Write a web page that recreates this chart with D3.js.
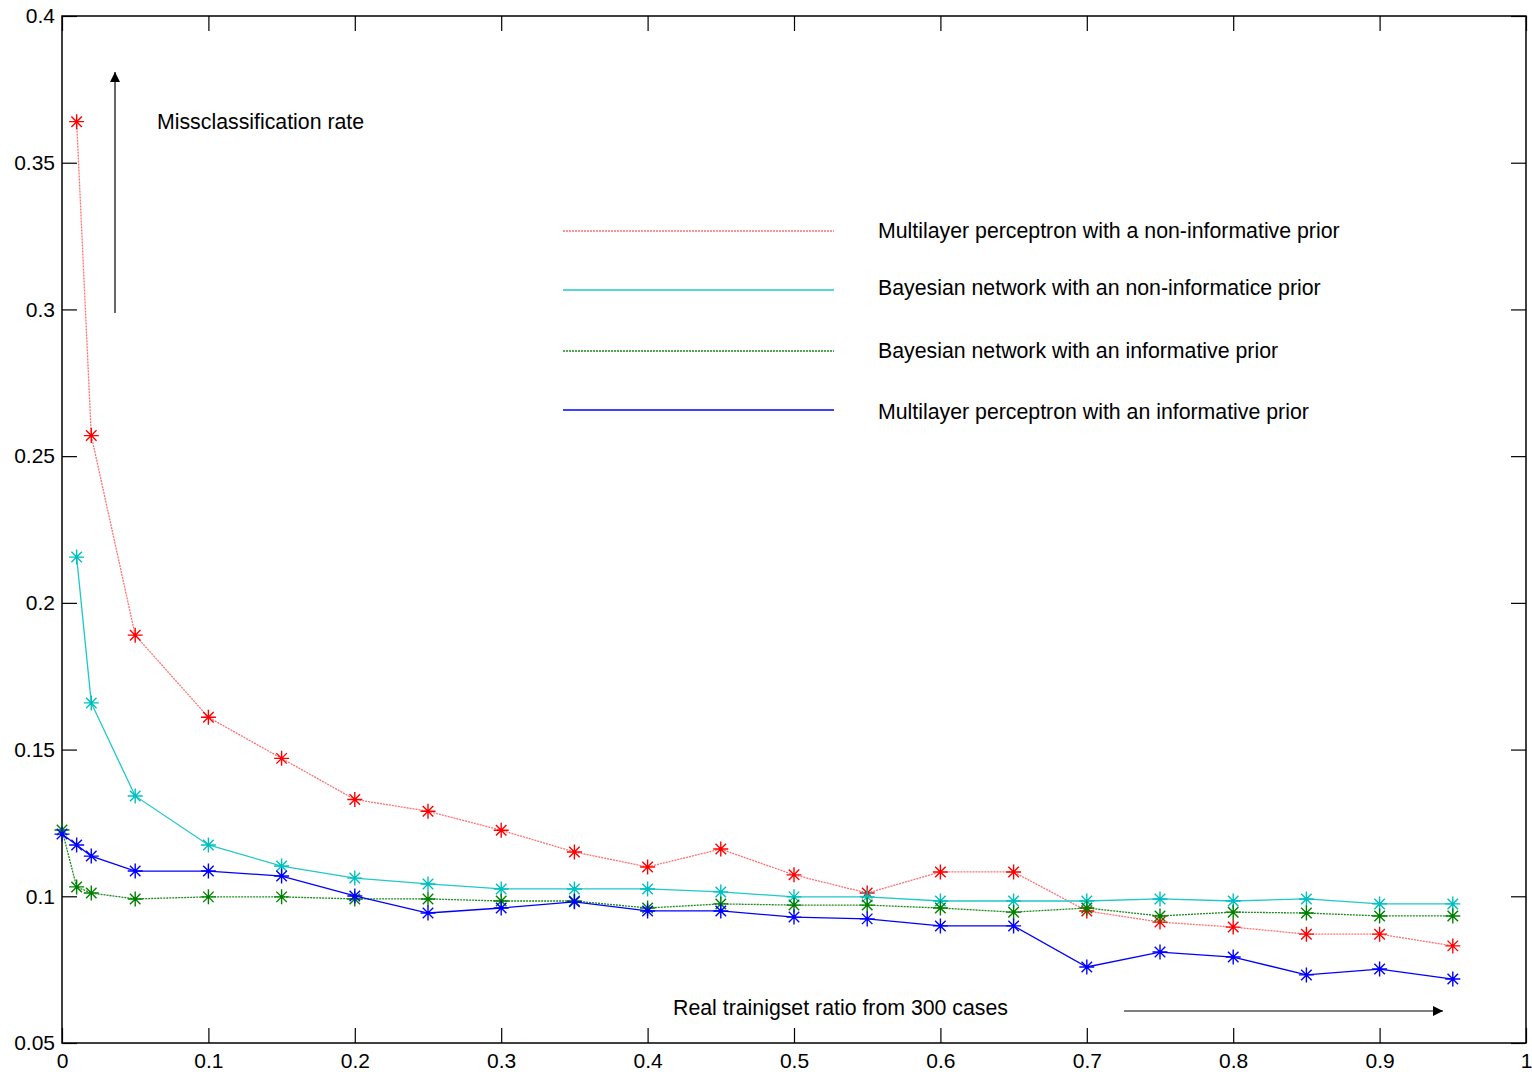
<!DOCTYPE html>
<html>
<head>
<meta charset="utf-8">
<script src="https://cdn.jsdelivr.net/npm/d3@7"></script>
<style>
body { margin: 0; background: #fff; }
svg { display: block; font-family: "Liberation Sans", Arial, sans-serif; }
.tick-label { font-size: 21px; fill: #000; }
.note { font-size: 21.3px; fill: #000; }
</style>
</head>
<body>
<svg id="chart" width="1532" height="1072"></svg>
<script>
const ratios = [0, 0.01, 0.02, 0.05, 0.1, 0.15, 0.2, 0.25, 0.3, 0.35, 0.4, 0.45, 0.5, 0.55, 0.6, 0.65, 0.7, 0.75, 0.8, 0.85, 0.9, 0.95];

// null = no point at that ratio
const mlpNonInformative = [null, 0.364, 0.257, 0.189, 0.161, 0.147, 0.133, 0.129, 0.1225, 0.1151, 0.110, 0.1161, 0.1073, 0.1011, 0.1083, 0.1083, 0.095, 0.0912, 0.0895, 0.0871, 0.0871, 0.0831];
const bnNonInformative = [null, 0.2156, 0.1659, 0.1342, 0.1175, 0.1103, 0.1062, 0.1042, 0.1025, 0.1025, 0.1025, 0.1015, 0.0998, 0.0998, 0.0984, 0.0984, 0.0984, 0.0991, 0.0984, 0.0991, 0.0974, 0.0974];
const bnInformative = [0.1226, 0.1032, 0.1011, 0.0991, 0.0998, 0.0998, 0.0991, 0.0991, 0.0984, 0.0984, 0.096, 0.0974, 0.097, 0.097, 0.096, 0.0946, 0.096, 0.0933, 0.0946, 0.0943, 0.0933, 0.0933];
const mlpInformative = [0.1212, 0.1175, 0.1137, 0.1086, 0.1086, 0.1069, 0.1001, 0.0943, 0.096, 0.0981, 0.095, 0.095, 0.0929, 0.0923, 0.0899, 0.0899, 0.0759, 0.081, 0.0793, 0.0732, 0.0752, 0.0718];

const seriesNames = [
  "Multilayer perceptron with a non-informative prior",
  "Bayesian network with an non-informatice prior",
  "Bayesian network with an informative prior",
  "Multilayer perceptron with an informative prior"
];

const xTicks = [0, 0.1, 0.2, 0.3, 0.4, 0.5, 0.6, 0.7, 0.8, 0.9, 1];
const yTicks = [0.05, 0.1, 0.15, 0.2, 0.25, 0.3, 0.35, 0.4];

const series = [
  { name: seriesNames[0], values: mlpNonInformative, line: "#ff7070", mark: "#ff0000", dash: "2,1" },
  { name: seriesNames[1], values: bnNonInformative, line: "#20c8c8", mark: "#00bfbf", dash: null },
  { name: seriesNames[2], values: bnInformative, line: "#1a8a1a", mark: "#008000", dash: "2,1" },
  { name: seriesNames[3], values: mlpInformative, line: "#0000ff", mark: "#0000ff", dash: null }
];

const width = 1532, height = 1072;
const margin = { top: 16, right: 6, bottom: 29, left: 62 };

const x = d3.scaleLinear().domain([0, 1]).range([margin.left, width - margin.right]);
const y = d3.scaleLinear().domain([0.05, 0.4]).range([height - margin.bottom, margin.top]);

const svg = d3.select("#chart");

// arrow head
svg.append("defs").append("marker")
  .attr("id", "arrow")
  .attr("viewBox", "0 0 10 10")
  .attr("refX", 10).attr("refY", 5)
  .attr("markerWidth", 18).attr("markerHeight", 10)
  .attr("markerUnits", "userSpaceOnUse")
  .attr("orient", "auto")
  .append("path").attr("d", "M0,0L10,5L0,10Z").attr("fill", "#000");

// box
svg.append("rect")
  .attr("x", x(0)).attr("y", y(0.4))
  .attr("width", x(1) - x(0)).attr("height", y(0.05) - y(0.4))
  .attr("fill", "none").attr("stroke", "#000").attr("stroke-width", 1.5);

// axes with inward ticks
const tickLen = 15;
svg.append("g")
  .attr("transform", `translate(0,${y(0.05)})`)
  .call(d3.axisBottom(x).tickValues(xTicks).tickFormat(d3.format("")).tickSize(-tickLen).tickPadding(10))
  .call(g => g.select(".domain").remove())
  .call(g => g.selectAll("text").attr("class", "tick-label"));
svg.append("g")
  .attr("transform", `translate(0,${y(0.4)})`)
  .call(d3.axisTop(x).tickValues(xTicks).tickFormat("").tickSize(-tickLen))
  .call(g => g.select(".domain").remove());
svg.append("g")
  .attr("transform", `translate(${x(0)},0)`)
  .call(d3.axisLeft(y).tickValues(yTicks).tickFormat(d3.format("")).tickSize(-tickLen).tickPadding(7))
  .call(g => g.select(".domain").remove())
  .call(g => g.selectAll("text").attr("class", "tick-label"));
svg.append("g")
  .attr("transform", `translate(${x(1)},0)`)
  .call(d3.axisRight(y).tickValues(yTicks).tickFormat("").tickSize(-tickLen))
  .call(g => g.select(".domain").remove());
svg.selectAll(".tick line").attr("stroke", "#000").attr("stroke-width", 1.2);

// lines
const line = d3.line()
  .defined(d => d.v != null)
  .x(d => x(d.r))
  .y(d => y(d.v));

const r = 7.5;
const star = `M${-r},0H${r}M0,${-r}V${r}M${-r * 0.7},${-r * 0.7}L${r * 0.7},${r * 0.7}M${-r * 0.7},${r * 0.7}L${r * 0.7},${-r * 0.7}`;

series.forEach(s => {
  const pts = ratios.map((rr, i) => ({ r: rr, v: s.values[i] }));
  svg.append("path")
    .datum(pts)
    .attr("fill", "none")
    .attr("stroke", s.line)
    .attr("stroke-width", 1.3)
    .attr("stroke-dasharray", s.dash)
    .attr("d", line);
  svg.append("g").selectAll("path")
    .data(pts.filter(d => d.v != null))
    .join("path")
    .attr("transform", d => `translate(${x(d.r)},${y(d.v)})`)
    .attr("d", star)
    .attr("fill", "none")
    .attr("stroke", s.mark)
    .attr("stroke-width", 1.4);
});

// legend
const legendLineY = [231, 290, 351, 410];
const legendTextY = [231, 288, 351, 412];
const lg = svg.append("g");
series.forEach((s, i) => {
  lg.append("line")
    .attr("x1", 563).attr("x2", 834)
    .attr("y1", legendLineY[i]).attr("y2", legendLineY[i])
    .attr("stroke", s.line).attr("stroke-width", 1.3)
    .attr("stroke-dasharray", s.dash);
  lg.append("text")
    .attr("class", "note")
    .attr("x", 878).attr("y", legendTextY[i])
    .attr("dy", "0.35em")
    .text(s.name);
});

// annotations
svg.append("text").attr("class", "note")
  .attr("x", 157).attr("y", 122).attr("dy", "0.35em")
  .text("Missclassification rate");
svg.append("line")
  .attr("x1", 115).attr("x2", 115).attr("y1", 313).attr("y2", 72)
  .attr("stroke", "#000").attr("stroke-width", 1.2)
  .attr("marker-end", "url(#arrow)");

svg.append("text").attr("class", "note")
  .attr("x", 673).attr("y", 1008).attr("dy", "0.35em")
  .text("Real trainigset ratio from 300 cases");
svg.append("line")
  .attr("x1", 1124).attr("x2", 1443).attr("y1", 1011).attr("y2", 1011)
  .attr("stroke", "#000").attr("stroke-width", 1.2)
  .attr("marker-end", "url(#arrow)");
</script>
</body>
</html>
